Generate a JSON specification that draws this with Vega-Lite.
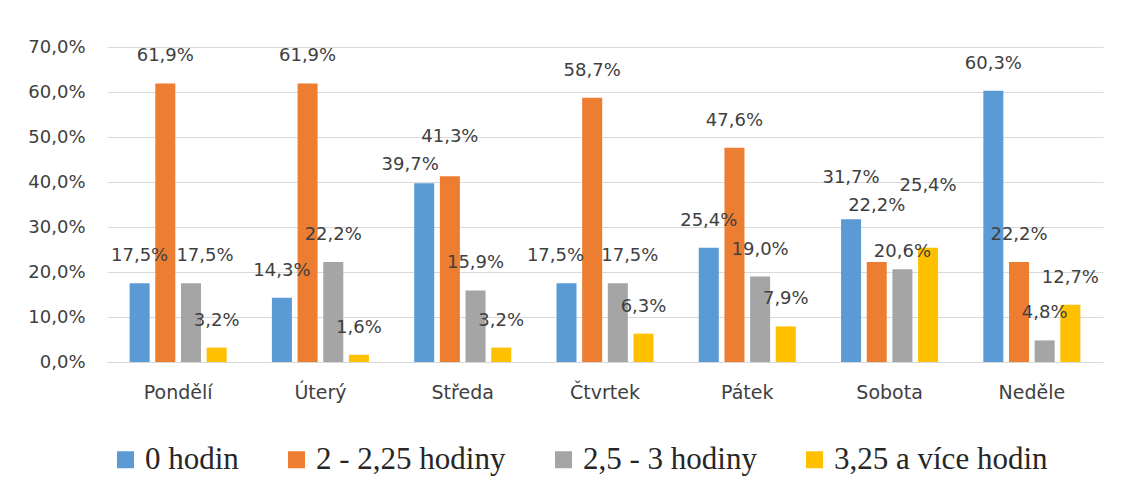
{
  "$schema": "https://vega.github.io/schema/vega-lite/v6.json",
  "width": 996,
  "height": 315,
  "autosize": "none",
  "padding": {"left": 107, "top": 47, "right": 18, "bottom": 124},
  "background": "white",
  "config": {
    "locale": {"number": {"decimal": ",", "thousands": " ", "grouping": [3], "currency": ["", " Kč"]}},
    "view": {"stroke": null},
    "text": {"baseline": "bottom", "font": "DejaVu Sans", "fontSize": 18, "color": "#404040"}
  },
  "data": {
    "values": [
      {"day": "Pondělí", "series": "0 hodin", "value": 0.175},
      {"day": "Pondělí", "series": "2 - 2,25 hodiny", "value": 0.619},
      {"day": "Pondělí", "series": "2,5 - 3 hodiny", "value": 0.175},
      {"day": "Pondělí", "series": "3,25 a více hodin", "value": 0.032},
      {"day": "Úterý", "series": "0 hodin", "value": 0.143},
      {"day": "Úterý", "series": "2 - 2,25 hodiny", "value": 0.619},
      {"day": "Úterý", "series": "2,5 - 3 hodiny", "value": 0.222},
      {"day": "Úterý", "series": "3,25 a více hodin", "value": 0.016},
      {"day": "Středa", "series": "0 hodin", "value": 0.397},
      {"day": "Středa", "series": "2 - 2,25 hodiny", "value": 0.413},
      {"day": "Středa", "series": "2,5 - 3 hodiny", "value": 0.159},
      {"day": "Středa", "series": "3,25 a více hodin", "value": 0.032},
      {"day": "Čtvrtek", "series": "0 hodin", "value": 0.175},
      {"day": "Čtvrtek", "series": "2 - 2,25 hodiny", "value": 0.587},
      {"day": "Čtvrtek", "series": "2,5 - 3 hodiny", "value": 0.175},
      {"day": "Čtvrtek", "series": "3,25 a více hodin", "value": 0.063},
      {"day": "Pátek", "series": "0 hodin", "value": 0.254},
      {"day": "Pátek", "series": "2 - 2,25 hodiny", "value": 0.476},
      {"day": "Pátek", "series": "2,5 - 3 hodiny", "value": 0.190},
      {"day": "Pátek", "series": "3,25 a více hodin", "value": 0.079},
      {"day": "Sobota", "series": "0 hodin", "value": 0.317},
      {"day": "Sobota", "series": "2 - 2,25 hodiny", "value": 0.222},
      {"day": "Sobota", "series": "2,5 - 3 hodiny", "value": 0.206},
      {"day": "Sobota", "series": "3,25 a více hodin", "value": 0.254},
      {"day": "Neděle", "series": "0 hodin", "value": 0.603},
      {"day": "Neděle", "series": "2 - 2,25 hodiny", "value": 0.222},
      {"day": "Neděle", "series": "2,5 - 3 hodiny", "value": 0.048},
      {"day": "Neděle", "series": "3,25 a více hodin", "value": 0.127}
    ]
  },
  "encoding": {
    "x": {
      "field": "day",
      "type": "nominal",
      "sort": ["Pondělí", "Úterý", "Středa", "Čtvrtek", "Pátek", "Sobota", "Neděle"],
      "scale": {"paddingInner": 0.318, "paddingOuter": 0.159},
      "axis": {
        "title": null,
        "labelAngle": 0,
        "ticks": false,
        "domain": true,
        "domainColor": "#d9d9d9",
        "domainWidth": 1,
        "labelFont": "DejaVu Sans",
        "labelFontSize": 19,
        "labelColor": "#404040",
        "labelPadding": 21
      }
    },
    "xOffset": {
      "field": "series",
      "sort": ["0 hodin", "2 - 2,25 hodiny", "2,5 - 3 hodiny", "3,25 a více hodin"],
      "scale": {"paddingInner": 0.22, "paddingOuter": 0}
    },
    "y": {
      "field": "value",
      "type": "quantitative",
      "scale": {"domain": [0, 0.7]},
      "axis": {
        "title": null,
        "values": [0, 0.1, 0.2, 0.3, 0.4, 0.5, 0.6, 0.7],
        "format": ".1%",
        "domain": false,
        "ticks": false,
        "grid": true,
        "gridColor": "#d9d9d9",
        "labelFont": "DejaVu Sans",
        "labelFontSize": 18,
        "labelColor": "#404040",
        "labelPadding": 22
      }
    },
    "text": {"field": "value", "type": "quantitative", "format": ".1%"}
  },
  "layer": [
    {
      "mark": {"type": "bar"},
      "encoding": {
        "text": null,
        "color": {
          "field": "series",
          "type": "nominal",
          "scale": {
            "domain": ["0 hodin", "2 - 2,25 hodiny", "2,5 - 3 hodiny", "3,25 a více hodin"],
            "range": ["#5b9bd5", "#ed7d31", "#a5a5a5", "#ffc000"]
          },
          "legend": {
            "title": null,
            "orient": "none",
            "legendX": 3,
            "legendY": 397,
            "direction": "horizontal",
            "symbolType": "square",
            "symbolSize": 289,
            "symbolStrokeWidth": 0,
            "labelFont": "Liberation Serif",
            "labelFontSize": 31,
            "labelColor": "#262626",
            "labelOffset": 4,
            "labelLimit": 0,
            "columnPadding": 42
          }
        }
      }
    },
    {
      "transform": [{"filter": "indexof(['Středa|0 hodin','Středa|2 - 2,25 hodiny','Sobota|0 hodin','Sobota|2 - 2,25 hodiny','Sobota|2,5 - 3 hodiny','Sobota|3,25 a více hodin','Pondělí|2,5 - 3 hodiny','Čtvrtek|0 hodin','Čtvrtek|2,5 - 3 hodiny'], datum.day + '|' + datum.series) < 0"}],
      "mark": {"type": "text", "dy": -18}
    },
    {
      "transform": [{"filter": "datum.day == 'Pondělí' && datum.series == '2,5 - 3 hodiny'"}],
      "mark": {"type": "text", "dy": -18, "dx": 14}
    },
    {
      "transform": [{"filter": "datum.day == 'Čtvrtek' && datum.series == '0 hodin'"}],
      "mark": {"type": "text", "dy": -18, "dx": -11}
    },
    {
      "transform": [{"filter": "datum.day == 'Čtvrtek' && datum.series == '2,5 - 3 hodiny'"}],
      "mark": {"type": "text", "dy": -18, "dx": 12}
    },
    {
      "transform": [{"filter": "datum.day == 'Středa' && datum.series == '0 hodin'"}],
      "mark": {"type": "text", "dy": -9, "dx": -14}
    },
    {
      "transform": [{"filter": "datum.day == 'Středa' && datum.series == '2 - 2,25 hodiny'"}],
      "mark": {"type": "text", "dy": -30}
    },
    {
      "transform": [{"filter": "datum.day == 'Sobota' && datum.series == '0 hodin'"}],
      "mark": {"type": "text", "dy": -32}
    },
    {
      "transform": [{"filter": "datum.day == 'Sobota' && datum.series == '2 - 2,25 hodiny'"}],
      "mark": {"type": "text", "dy": -47}
    },
    {
      "transform": [{"filter": "datum.day == 'Sobota' && datum.series == '2,5 - 3 hodiny'"}],
      "mark": {"type": "text", "dy": -8}
    },
    {
      "transform": [{"filter": "datum.day == 'Sobota' && datum.series == '3,25 a více hodin'"}],
      "mark": {"type": "text", "dy": -53}
    }
  ]
}
